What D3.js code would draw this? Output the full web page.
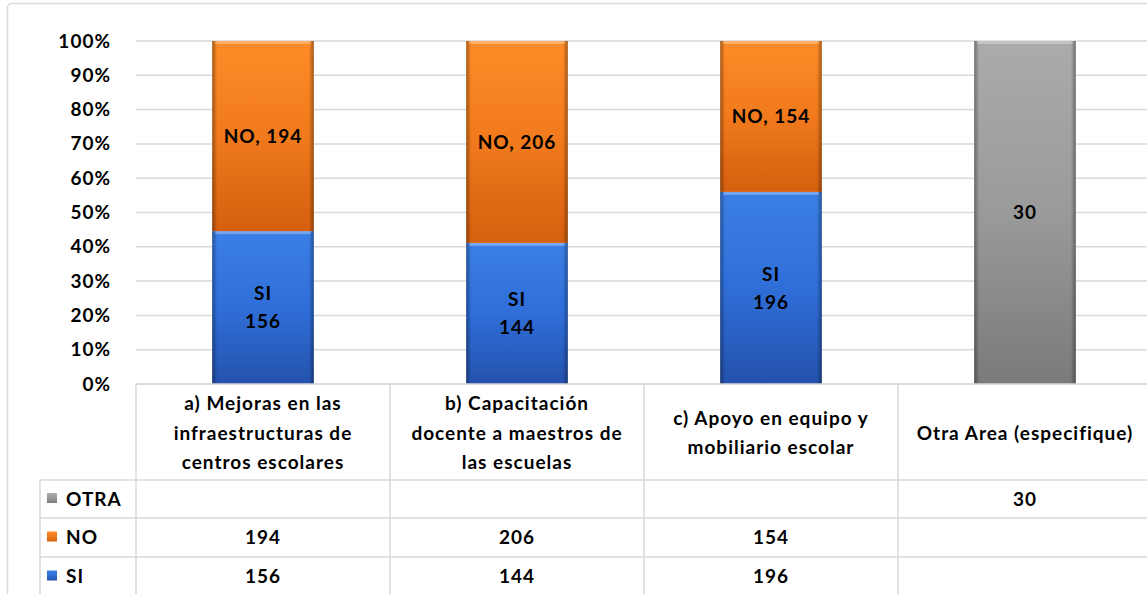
<!DOCTYPE html>
<html>
<head>
<meta charset="utf-8">
<script src="https://cdn.jsdelivr.net/npm/d3@7"></script>
<style>
  body { margin: 0; background: #fff; }
  svg text { font-family: Lato, "Open Sans", sans-serif; font-weight: bold; fill: #000; letter-spacing: 1px; }
</style>
</head>
<body>
<script>
//chart values
var categories = ["a", "b", "c", "d"];
var categoryLines = [
    ["a) Mejoras en las", "infraestructuras de", "centros escolares"],
    ["b) Capacitación", "docente a maestros de", "las escuelas"],
    ["c) Apoyo en equipo y", "mobiliario escolar"],
    ["Otra Area (especifique)"]
];
var seriesKeys = ["SI", "NO", "OTRA"];
var siValues = [156, 144, 196, null];
var noValues = [194, 206, 154, null];
var otraValues = [null, null, null, 30];
var yTicks = [0, 0.1, 0.2, 0.3, 0.4, 0.5, 0.6, 0.7, 0.8, 0.9, 1];

//frame
var width = 1147,
    height = 594,
    fontSize = 19;

var svg = d3.select("body")
    .append("svg")
    .attr("width", width)
    .attr("height", height);

//gradients for the bevelled bars
var defs = svg.append("defs");
var colors = {
    SI: ["#3b7fe6", "#2f6ed8", "#2452ad"],
    NO: ["#ff8b28", "#f07a1c", "#d55f0e"],
    OTRA: ["#ababab", "#9a9a9a", "#7a7a7a"]
};
seriesKeys.forEach(function(k){
    var g = defs.append("linearGradient")
        .attr("id", "grad" + k)
        .attr("x1", 0).attr("y1", 0).attr("x2", 0).attr("y2", 1);
    g.append("stop").attr("offset", "0%").attr("stop-color", colors[k][0]);
    g.append("stop").attr("offset", "50%").attr("stop-color", colors[k][1]);
    g.append("stop").attr("offset", "100%").attr("stop-color", colors[k][2]);
});
var edge = defs.append("linearGradient")
    .attr("id", "edge")
    .attr("x1", 0).attr("y1", 0).attr("x2", 1).attr("y2", 0);
edge.append("stop").attr("offset", "0%").attr("stop-color", "#000").attr("stop-opacity", 0.35);
edge.append("stop").attr("offset", "5%").attr("stop-color", "#000").attr("stop-opacity", 0);
edge.append("stop").attr("offset", "95%").attr("stop-color", "#000").attr("stop-opacity", 0);
edge.append("stop").attr("offset", "100%").attr("stop-color", "#000").attr("stop-opacity", 0.35);

//outer chart border
svg.append("rect")
    .attr("x", 7.5).attr("y", 3.5)
    .attr("width", 1200).attr("height", 700)
    .attr("rx", 4)
    .attr("fill", "none")
    .attr("stroke", "#d9d9d9")
    .attr("stroke-width", 1.5);

//scales
var x = d3.scaleBand()
    .domain(categories)
    .range([136, 1152])
    .paddingInner(0.6)
    .paddingOuter(0.3);

var y = d3.scaleLinear()
    .domain([0, 1])
    .range([384, 41]);

//gridlines
svg.selectAll(".grid")
    .data(yTicks)
    .enter()
    .append("line")
    .attr("class", "grid")
    .attr("x1", 136).attr("x2", width)
    .attr("y1", function(d){ return y(d); })
    .attr("y2", function(d){ return y(d); })
    .attr("stroke", "#d9d9d9")
    .attr("stroke-width", 1.5);

//y axis labels
var yAxis = d3.axisLeft(y)
    .tickValues(yTicks)
    .tickFormat(d3.format(".0%"))
    .tickSize(0)
    .tickPadding(0);
var yg = svg.append("g")
    .attr("transform", "translate(111,0)")
    .call(yAxis);
yg.select(".domain").remove();
yg.selectAll("text")
    .attr("font-size", fontSize)
    .style("font-family", "Lato, sans-serif")
    .style("font-weight", "bold")
    .attr("fill", "#000");

//stack data
var rows = categories.map(function(c, i){
    return { cat: c, SI: siValues[i] || 0, NO: noValues[i] || 0, OTRA: otraValues[i] || 0 };
});
var stack = d3.stack()
    .keys(seriesKeys)
    .offset(d3.stackOffsetExpand);
var series = stack(rows);

var bars = svg.append("g");
var labels = svg.append("g");

series.forEach(function(s){
    s.forEach(function(d){
        var v = d.data[s.key];
        if (!v) return;
        var bx = x(d.data.cat), bw = x.bandwidth();
        var y0 = y(d[1]), h = y(d[0]) - y(d[1]);
        bars.append("rect")
            .attr("x", bx).attr("y", y0)
            .attr("width", bw).attr("height", h)
            .attr("fill", "url(#grad" + s.key + ")");
        bars.append("rect")
            .attr("x", bx).attr("y", y0)
            .attr("width", bw).attr("height", h)
            .attr("fill", "url(#edge)");
        //bevel highlight on top
        bars.append("rect")
            .attr("x", bx + 3).attr("y", y0)
            .attr("width", bw - 6).attr("height", 3)
            .attr("fill", "#fff")
            .attr("opacity", 0.3);

        //data label
        var cx = bx + bw / 2;
        var cy = y0 + h / 2;
        var lines = s.key === "SI" ? ["SI", String(v)] :
                    s.key === "NO" ? ["NO, " + v] : [String(v)];
        var lh = 28;
        lines.forEach(function(t, j){
            labels.append("text")
                .attr("x", cx)
                .attr("y", cy + (j - (lines.length - 1) / 2) * lh)
                .attr("dy", "0.35em")
                .attr("text-anchor", "middle")
                .attr("font-size", fontSize)
                .text(t);
        });
    });
});

//data table
var colEdges = [136].concat(categories.map(function(c){ return x(c) + x.bandwidth() / 2 + x.step() / 2; }));
var tableRows = [
    { key: "OTRA", vals: otraValues, top: 480, bottom: 518 },
    { key: "NO", vals: noValues, top: 518, bottom: 557 },
    { key: "SI", vals: siValues, top: 557, bottom: 596 }
];

var table = svg.append("g");
//axis base line
table.append("line")
    .attr("x1", 136).attr("x2", width)
    .attr("y1", 384).attr("y2", 384)
    .attr("stroke", "#d9d9d9").attr("stroke-width", 1.5);
tableRows.forEach(function(r){
    table.append("line")
        .attr("x1", 40).attr("x2", width)
        .attr("y1", r.top).attr("y2", r.top)
        .attr("stroke", "#d9d9d9").attr("stroke-width", 1.5);
});
table.append("line")
    .attr("x1", 40).attr("x2", 40)
    .attr("y1", 480).attr("y2", height)
    .attr("stroke", "#d9d9d9").attr("stroke-width", 1.5);
colEdges.forEach(function(cx){
    table.append("line")
        .attr("x1", cx).attr("x2", cx)
        .attr("y1", 384).attr("y2", height)
        .attr("stroke", "#d9d9d9").attr("stroke-width", 1.5);
});

//category headers
categories.forEach(function(c, i){
    var cx = x(c) + x.bandwidth() / 2;
    var lines = categoryLines[i];
    var lh = 29.5;
    lines.forEach(function(t, j){
        table.append("text")
            .attr("x", cx)
            .attr("y", 433 + (j - (lines.length - 1) / 2) * lh)
            .attr("dy", "0.35em")
            .attr("text-anchor", "middle")
            .attr("font-size", fontSize)
            .text(t);
    });
});

//legend keys and values
tableRows.forEach(function(r){
    var cy = (r.top + r.bottom) / 2;
    table.append("rect")
        .attr("x", 47).attr("y", cy - 6)
        .attr("width", 10).attr("height", 10)
        .attr("fill", "url(#grad" + r.key + ")");
    table.append("text")
        .attr("x", 66).attr("y", cy)
        .attr("dy", "0.35em")
        .attr("font-size", fontSize)
        .text(r.key);
    r.vals.forEach(function(v, i){
        if (v == null) return;
        table.append("text")
            .attr("x", x(categories[i]) + x.bandwidth() / 2)
            .attr("y", cy)
            .attr("dy", "0.35em")
            .attr("text-anchor", "middle")
            .attr("font-size", fontSize)
            .text(v);
    });
});
</script>
</body>
</html>
